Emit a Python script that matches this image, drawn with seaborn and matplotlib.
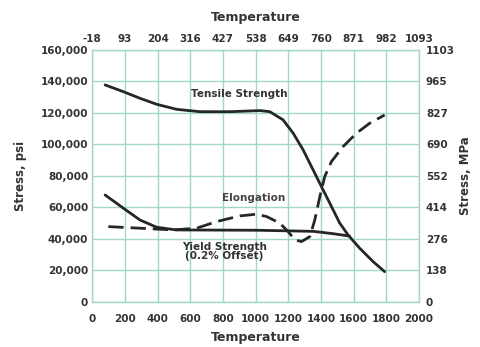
import numpy as np
import matplotlib
matplotlib.use("Agg")
import matplotlib.pyplot as plt
import seaborn as sns
import pandas as pd

# ==========================================
# Data (deg F, psi)
# ==========================================
tensile_temp = [78, 190, 292, 394, 516, 659, 842, 1026, 1087, 1168, 1230, 1291, 1352, 1403,
                1454, 1515, 1566, 1637, 1719, 1790]
tensile_psi = [137800, 133500, 129300, 125500, 122300, 120800, 120800, 121500, 120800, 115600,
               107100, 96500, 83800, 73200, 62700, 50000, 42500, 34100, 25600, 19200]

yield_temp = [78, 190, 292, 394, 516, 1006, 1353, 1476, 1575]
yield_psi = [67900, 59500, 52000, 47400, 45700, 45500, 44800, 43300, 41800]

elong_temp = [98, 292, 494, 638, 761, 903, 1005, 1067, 1148, 1199, 1240, 1281, 1332, 1362,
              1393, 1423, 1464, 1535, 1617, 1699, 1790]
elong_psi = [47800, 46800, 45700, 46800, 51000, 54600, 55700, 54200, 50000, 44600, 39400,
             38300, 41500, 52000, 66900, 79600, 89100, 98600, 107100, 113500, 118700]

temp_f_ticks = list(range(0, 2001, 200))
temp_c_labels = ["-18", "93", "204", "316", "427", "538", "649", "760", "871", "982", "1093"]
psi_ticks = list(range(0, 160001, 20000))
mpa_ticks = [0, 138, 276, 414, 552, 690, 827, 965, 1103]

sns.set_theme(style="white")
plt.rcParams["font.family"] = ["DejaVu Sans"]
plt.rcParams["font.weight"] = "bold"

grid_col = "#a3d6ca"
line_col = "#262626"
txt_col = "#333333"

fig = plt.figure(figsize=(4.81, 3.47), dpi=100)
ax = fig.add_axes([0.192, 0.13, 0.679, 0.726])

df_t = pd.DataFrame({"T": tensile_temp, "S": tensile_psi})
df_y = pd.DataFrame({"T": yield_temp, "S": yield_psi})
df_e = pd.DataFrame({"T": elong_temp, "S": elong_psi})

sns.lineplot(data=df_t, x="T", y="S", ax=ax, color=line_col, lw=2.0, sort=False)
sns.lineplot(data=df_y, x="T", y="S", ax=ax, color=line_col, lw=2.0, sort=False)
sns.lineplot(data=df_e, x="T", y="S", ax=ax, color=line_col, lw=2.0, sort=False,
             dashes=False, linestyle=(0, (5.5, 2.5)))

ax.set_xlim(0, 2000)
ax.set_ylim(0, 160000)
ax.set_xticks(temp_f_ticks)
ax.set_yticks(psi_ticks)
ax.set_yticklabels([f"{v:,}" for v in psi_ticks])
ax.grid(True, color=grid_col, lw=1.0)
for s in ax.spines.values():
    s.set_color(grid_col)
    s.set_linewidth(1.0)
ax.tick_params(length=0, labelsize=7.5, colors=txt_col)
ax.tick_params(axis="x", pad=9)
ax.tick_params(axis="y", pad=3)
ax.set_xlabel("Temperature", fontsize=9, fontweight="bold", color=txt_col, labelpad=5)
ax.set_ylabel("Stress, psi", fontsize=8.5, fontweight="bold", color=txt_col, labelpad=10)

axr = ax.twinx()
axr.set_ylim(0, 1103)
axr.set_yticks(mpa_ticks)
axr.tick_params(length=0, labelsize=7.5, pad=5, colors=txt_col)
axr.set_ylabel("Stress, MPa", fontsize=8.5, fontweight="bold", color=txt_col, labelpad=3)
for s in axr.spines.values():
    s.set_visible(False)

axt = ax.twiny()
axt.set_xlim(0, 2000)
axt.set_xticks(temp_f_ticks)
axt.set_xticklabels(temp_c_labels)
axt.tick_params(length=0, labelsize=7.5, pad=4.5, colors=txt_col)
axt.set_xlabel("Temperature", fontsize=9, fontweight="bold", color=txt_col, labelpad=9)
for s in axt.spines.values():
    s.set_visible(False)

ax.text(900, 132000, "Tensile Strength", fontsize=7.5, fontweight="bold", color=txt_col, ha="center", va="center")
ax.text(990, 66000, "Elongation", fontsize=7.5, fontweight="bold", color="#444444", ha="center", va="center")
ax.text(810, 32000, "Yield Strength\n(0.2% Offset)", fontsize=7.5, fontweight="bold", color=txt_col,
        ha="center", va="center", linespacing=0.95)

fig.savefig("out.png", dpi=100)
